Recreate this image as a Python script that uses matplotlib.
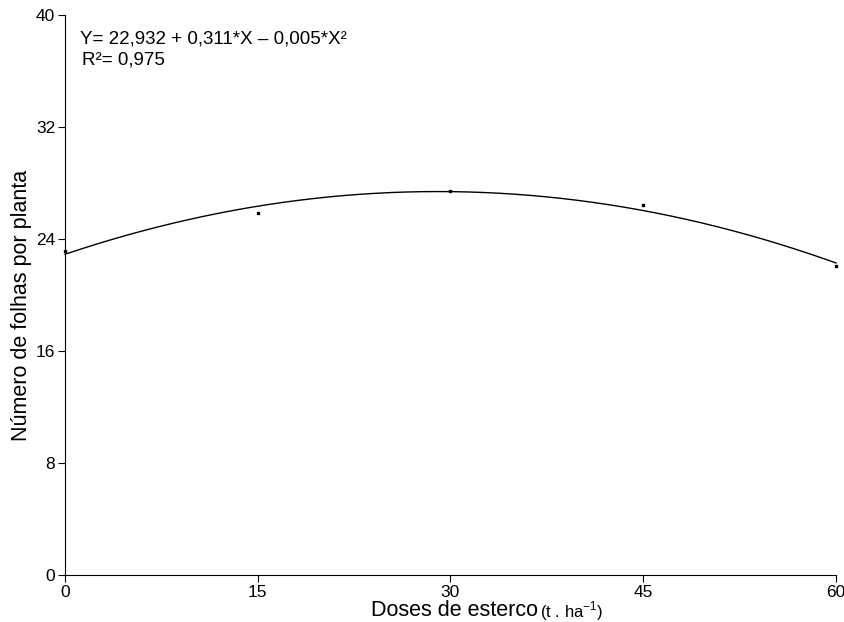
import matplotlib.pyplot as plt
import numpy as np

plt.rcParams['font.family'] = ['Liberation Sans', 'DejaVu Sans']

# doses de esterco (t/ha) and observed number of leaves
doses = np.array([0, 15, 30, 45, 60])
folhas = np.array([23.14, 25.86, 27.43, 26.45, 22.07])
x_ticks = [0, 15, 30, 45, 60]
y_ticks = [0, 8, 16, 24, 32, 40]

# quadratic regression fitted to the points
coef = np.polyfit(doses, folhas, 2)
xx = np.linspace(0, 60, 200)
yy = np.polyval(coef, xx)

fig = plt.figure(figsize=(8.45, 6.22), dpi=100)
ax = fig.add_axes([0.0769, 0.0756, 0.9124, 0.9003])

ax.plot(xx, yy, color='black', linewidth=1.0, clip_on=False)
ax.plot(doses, folhas, 's', color='black', markersize=2.0, clip_on=False)

ax.set_xlim(0, 60)
ax.set_ylim(0, 40)
ax.set_xticks(x_ticks)
ax.set_yticks(y_ticks)
ax.spines['top'].set_visible(False)
ax.spines['right'].set_visible(False)
ax.tick_params(labelsize=12.5, length=5, width=0.8, pad=2)

ax.text(0.02, 0.957, 'Y= 22,932 + 0,311*X \u2013 0,005*X\u00b2', transform=ax.transAxes,
        fontsize=13.5, va='center', ha='left')
ax.text(0.022, 0.919, 'R\u00b2= 0,975', transform=ax.transAxes,
        fontsize=13.5, va='center', ha='left')

fig.text(22 / 845, 1 - 305 / 622, 'Número de folhas por planta', rotation=90,
         fontsize=15.5, ha='center', va='center')
fig.text(538 / 845, 1 - 610 / 622, 'Doses de esterco', fontsize=15.5,
         ha='right', va='center')
fig.text(540 / 845, 1 - 611 / 622, '(t . ha$^{\\mathregular{-1}}$)', fontsize=12,
         ha='left', va='center')

plt.savefig('out.png', dpi=100)
